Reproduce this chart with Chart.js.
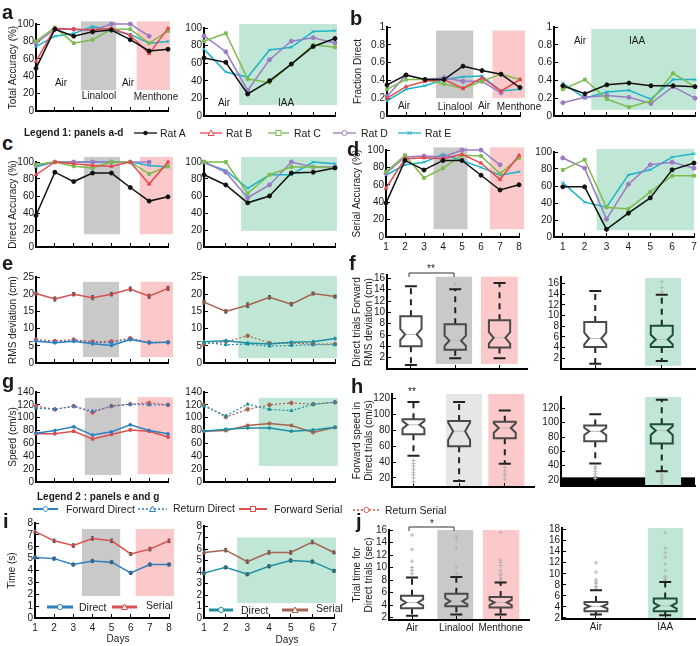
<!DOCTYPE html>
<html>
<head>
<meta charset="utf-8">
<title>Olfactory navigation panels</title>
<script src="https://cdn.jsdelivr.net/npm/chart.js@4.4.1/dist/chart.umd.min.js"></script>
<style>
  body { margin: 0; background: #fff; }
  #fig { position: relative; width: 700px; height: 646px; overflow: hidden; font-family: "Liberation Sans", Arial, sans-serif; color: #1a1a1a; }
  #fig canvas, #fig svg, #fig .t { position: absolute; }
  .t { white-space: nowrap; font-size: 10px; line-height: 1; }
  .let { font-weight: bold; font-size: 20px; }
  .leg { font-size: 10.5px; }
  .bold { font-weight: bold; }
</style>
</head>
<body>
<div id="fig"></div>
<script>
// ---- data ----
const days8 = [1, 2, 3, 4, 5, 6, 7, 8];
const days7 = [1, 2, 3, 4, 5, 6, 7];
const ratNames = ['Rat A', 'Rat B', 'Rat C', 'Rat D', 'Rat E'];
const odorNames = ['Air', 'Linalool', 'Menthone'];
const iaaNames = ['Air', 'IAA'];

// a: total accuracy (%) per rat (Rat B did not run the IAA days)
const totalAccOdor = [
  [49, 94, 86, 91, 93, 82, 69, 71],
  [57, 95, 94, 93, 95, 87, 66, 95],
  [80, 96, 78, 82, 94, 94, 78, 92],
  [78, 94, 94, 93, 100, 100, 86, null],
  [74, 86, 89, 97, 93, 88, 78, 80]
];
const totalAccIaa = [
  [66, 61, 25, 40, 59, 79, 88],
  null,
  [85, 94, 42, 38, 59, 81, 78],
  [91, 73, 29, 64, 85, 89, 83],
  [76, 50, 44, 75, 78, 96, 97]
];
// b: fraction direct
const fracDirectOdor = [
  [0.35, 0.46, 0.41, 0.41, 0.56, 0.51, 0.47, 0.32],
  [0.20, 0.33, 0.39, 0.41, 0.31, 0.43, 0.28, 0.41],
  [0.30, 0.41, 0.41, 0.36, 0.31, 0.39, 0.47, 0.41],
  [0.22, 0.46, 0.41, 0.43, 0.39, 0.39, 0.26, null],
  [0.17, 0.30, 0.34, 0.41, 0.44, 0.45, 0.28, 0.30]
];
const fracDirectIaa = [
  [0.34, 0.25, 0.35, 0.37, 0.34, 0.34, 0.33],
  null,
  [0.30, 0.41, 0.19, 0.10, 0.17, 0.48, 0.33],
  [0.15, 0.21, 0.23, 0.21, 0.14, 0.33, 0.20],
  [0.37, 0.20, 0.27, 0.29, 0.19, 0.41, 0.41]
];
// c: direct accuracy (%)
const directAccOdor = [
  [37, 88, 77, 87, 87, 70, 54, 59],
  [85, 100, 98, 96, 95, 100, 74, 100],
  [97, 100, 95, 93, 100, 100, 86, 95],
  [96, 100, 100, 100, 100, 100, 100, null],
  [94, 100, 100, 100, 100, 100, 96, 94]
];
const directAccIaa = [
  [85, 73, 52, 60, 87, 88, 93],
  null,
  [100, 100, 63, 85, 94, 94, 93],
  [100, 88, 58, 73, 100, 94, 94],
  [99, 90, 69, 85, 85, 100, 98]
];
// d: serial accuracy (%)
const serialAccOdor = [
  [39, 88, 77, 88, 88, 71, 54, 60],
  [56, 90, 91, 90, 95, 85, 66, 94],
  [75, 94, 68, 79, 94, 93, 73, 91],
  [73, 92, 93, 92, 100, 100, 83, null],
  [71, 83, 86, 95, 88, 80, 71, 75]
];
const serialAccIaa = [
  [59, 59, 9, 28, 46, 79, 87],
  null,
  [79, 91, 35, 33, 53, 72, 72],
  [93, 81, 21, 62, 85, 88, 81],
  [64, 41, 35, 73, 79, 94, 98]
];
// e: RMS deviation (cm)
const rmsFwdDirectOdor = [6.3, 5.9, 6.3, 5.6, 5.1, 6.8, 5.9, 6.0];
const rmsRetDirectOdor = [6.5, 6.0, 6.5, 5.9, 5.9, 7.0, 5.9, 6.0];
const rmsFwdSerialOdor = [20.2, 18.6, 20.0, 19.0, 20.0, 21.5, 19.4, 21.7];
const rmsRetSerialOdor = [6.8, 6.4, 6.8, 6.2, 6.3, 7.2, 6.0, 6.0];
const rmsFwdSerialOdorErr = [0.5, 0.6, 0.5, 0.6, 0.5, 0.6, 0.6, 0.6];
const rmsFwdDirectIaa = [6.2, 6.5, 5.8, 5.5, 6.0, 6.2, 7.1];
const rmsRetDirectIaa = [6.0, 5.3, 5.5, 4.9, 5.1, 5.3, 5.3];
const rmsFwdSerialIaa = [17.7, 15.0, 16.8, 19.1, 17.1, 20.2, 19.3];
const rmsRetSerialIaa = [5.5, 6.2, 7.9, 5.8, 5.8, 5.5, 5.5];
const rmsFwdSerialIaaErr = [0.6, 0.5, 0.7, 0.5, 0.5, 0.4, 0.4];
// g: speed (cm/s)
const speedFwdDirectOdor = [76, 80, 86, 73, 78, 89, 80, 75];
const speedRetDirectOdor = [115, 113, 118, 110, 118, 121, 120, 120];
const speedFwdSerialOdor = [75, 75, 79, 67, 74, 81, 79, 70];
const speedRetSerialOdor = [118, 113, 118, 108, 118, 121, 123, 120];
const speedFwdDirectIaa = [79, 82, 84, 84, 79, 81, 85];
const speedRetDirectIaa = [118, 103, 121, 113, 111, 121, 124];
const speedFwdSerialIaa = [79, 80, 88, 91, 88, 77, 85];
const speedRetSerialIaa = [120, 101, 113, 120, 123, 121, 124];
// i: trial time (s)
const timeDirectOdor = [5.1, 5.0, 4.5, 4.8, 4.7, 3.8, 4.5, 4.5];
const timeSerialOdor = [7.3, 6.5, 6.1, 6.7, 6.5, 5.4, 5.8, 6.5];
const timeDirectOdorErr = [0.1, 0.1, 0.1, 0.1, 0.1, 0.1, 0.1, 0.1];
const timeSerialOdorErr = [0.15, 0.15, 0.15, 0.15, 0.15, 0.12, 0.15, 0.15];
const timeDirectIaa = [3.9, 4.4, 3.8, 4.5, 5.0, 4.9, 4.1];
const timeSerialIaa = [5.7, 5.9, 4.9, 5.7, 5.7, 6.6, 5.7];
const timeDirectIaaErr = [0.1, 0.1, 0.1, 0.12, 0.12, 0.12, 0.1];
const timeSerialIaaErr = [0.15, 0.15, 0.15, 0.15, 0.15, 0.15, 0.12];
// f, h, j: box stats [lower whisker, q1, median, q3, upper whisker], notch half-height, outliers
const rmsBoxOdor = [[0.7, 4.0, 6.1, 9.3, 14.6], [1.9, 3.4, 5.0, 7.9, 14.1], [1.9, 3.8, 5.5, 8.6, 15.2]];
const rmsNotchOdor = [1.0, 0.9, 1.0];
const rmsOutOdor = [[], [15.0], []];
const rmsBoxIaa = [[1.0, 4.1, 5.7, 8.8, 14.6], [1.5, 4.1, 5.5, 8.1, 13.9]];
const rmsNotchIaa = [1.1, 0.9];
const rmsOutIaa = [[], [14.4, 15.2, 16.3]];
const speedBoxOdor = [[48, 75, 87, 94, 116], [16, 60, 79, 92, 116], [38, 70, 83, 91, 105]];
const speedNotchOdor = [5, 11, 6];
const speedOutOdor = [[15, 20, 24, 27, 31, 35, 38, 42], [], [18, 22, 25, 29, 33]];
const speedBoxIaa = [[43, 74, 88, 96, 112], [32, 71, 89, 98, 132]];
const speedNotchIaa = [5, 6];
const speedOutIaa = [[22, 25, 28, 32, 36, 39], [15, 18, 21, 24, 27]];
const timeBoxOdor = [[2.3, 3.5, 4.4, 5.5, 8.4], [2.5, 3.8, 4.6, 5.8, 8.5], [2.5, 3.6, 4.4, 5.3, 7.6]];
const timeNotchOdor = [0.5, 0.5, 0.4];
const timeOutOdor = [[9.0, 9.5, 10.0, 11.0, 12.9, 15.2], [9.0, 10.1, 13.0, 14.5, 15.0], [8.0, 8.3, 8.7, 9.0, 9.5, 10.3, 10.8, 11.2, 15.6]];
const timeBoxIaa = [[2.6, 3.2, 4.1, 4.9, 7.0], [2.5, 3.2, 4.2, 5.5, 8.5]];
const timeNotchIaa = [0.4, 0.5];
const timeOutIaa = [[7.4, 7.7, 8.2, 8.5, 8.9, 10.3, 12.0], [8.8, 9.1, 9.5, 10.6, 11.8, 13.0, 13.8, 14.6, 17.4]];

// ---- styles ----
const FONT = '"Liberation Sans", Arial, sans-serif';
const INK = '#1a1a1a';
const GRAY = '#c9c9c9', LGRAY = '#e6e6e6', PINK = '#fbc9c9', GREEN = '#c0e7d6';
const ratColors = ['#111111', '#e5484d', '#7dbb4f', '#9a7cc4', '#1db2c9'];
const ratMarkers = ['circle', 'triangle', 'rect', 'circle', 'crossRot'];
const BLUE = '#2c7fc0', RED = '#d9514e', TEAL = '#1f8fa3', BROWN = '#a5644f';

const fig = document.getElementById('fig');

function ratSets(rows, xs) {
  const out = [];
  rows.forEach(function (row, i) {
    if (!row) return;
    out.push({
      label: ratNames[i],
      data: row.map(function (v, k) { return { x: xs[k], y: v }; }),
      showLine: true, borderColor: ratColors[i], backgroundColor: ratColors[i],
      borderWidth: 1.5, pointStyle: ratMarkers[i], pointRadius: 2, pointBorderWidth: 1,
      clip: false
    });
  });
  return out;
}

function line(vals, xs, color, dashed, marker, errs) {
  return {
    data: vals.map(function (v, k) { return { x: xs[k], y: v }; }),
    showLine: true, borderColor: color, backgroundColor: color,
    borderWidth: dashed ? 1.2 : 1.5, borderDash: dashed ? [2, 2] : [],
    pointStyle: marker, pointRadius: 1.8, pointBorderWidth: 1,
    errs: errs || null, clip: false
  };
}

function outliers(lists) {
  const pts = [];
  lists.forEach(function (l, i) { l.forEach(function (v) { pts.push({ x: i + 1, y: v }); }); });
  return { data: pts, showLine: false, pointStyle: 'cross', pointRadius: 2, borderColor: '#b3b3b3', borderWidth: 1, clip: false };
}

// shaded odour periods, drawn behind everything
function shadePlugin(rects) {
  return {
    id: 'shade',
    beforeDraw: function (chart) {
      const ctx = chart.ctx, xs = chart.scales.x, ys = chart.scales.y;
      rects.forEach(function (r) {
        const x0 = xs.getPixelForValue(r.x[0]), x1 = xs.getPixelForValue(r.x[1]);
        const y0 = ys.getPixelForValue(r.y[1]), y1 = ys.getPixelForValue(r.y[0]);
        ctx.fillStyle = r.c;
        ctx.fillRect(x0, y0, x1 - x0, y1 - y0);
      });
    }
  };
}

// error bars on datasets that carry an errs array
const errPlugin = {
  id: 'errs',
  afterDatasetsDraw: function (chart) {
    const ctx = chart.ctx, ys = chart.scales.y;
    chart.data.datasets.forEach(function (ds, i) {
      if (!ds.errs) return;
      const meta = chart.getDatasetMeta(i);
      ctx.save();
      ctx.strokeStyle = '#555';
      ctx.lineWidth = 1;
      meta.data.forEach(function (pt, k) {
        const e = ds.errs[k], v = ds.data[k].y;
        const a = ys.getPixelForValue(v - e), b = ys.getPixelForValue(v + e);
        ctx.beginPath();
        ctx.moveTo(pt.x, a); ctx.lineTo(pt.x, b);
        ctx.moveTo(pt.x - 1.5, a); ctx.lineTo(pt.x + 1.5, a);
        ctx.moveTo(pt.x - 1.5, b); ctx.lineTo(pt.x + 1.5, b);
        ctx.stroke();
      });
      ctx.restore();
    });
  }
};

// notched box plots
function boxPlugin(b) {
  return {
    id: 'boxes',
    afterDatasetsDraw: function (chart) {
      if (!b) return;
      const ctx = chart.ctx, xs = chart.scales.x, ys = chart.scales.y;
      const py = function (v) { return ys.getPixelForValue(v); };
      b.stats.forEach(function (st, i) {
        const cx = xs.getPixelForValue(i + 1);
        const hw = xs.getPixelForValue(i + 1 + b.half) - cx;
        const L = cx - hw, R = cx + hw, ins = hw * 0.45;
        const lo = py(st[0]), q1 = py(st[1]), md = py(st[2]), q3 = py(st[3]), hi = py(st[4]);
        const nT = Math.max(py(st[2] + b.notch[i]), q3), nB = Math.min(py(st[2] - b.notch[i]), q1);
        ctx.save();
        ctx.strokeStyle = '#222';
        ctx.lineWidth = 2;
        ctx.setLineDash([6, 5]);
        ctx.beginPath();
        ctx.moveTo(cx, q3); ctx.lineTo(cx, hi);
        ctx.moveTo(cx, q1); ctx.lineTo(cx, lo);
        ctx.stroke();
        ctx.setLineDash([]);
        ctx.beginPath();
        ctx.moveTo(cx - 6, hi); ctx.lineTo(cx + 6, hi);
        ctx.moveTo(cx - 6, lo); ctx.lineTo(cx + 6, lo);
        ctx.stroke();
        ctx.strokeStyle = '#bdbdbd';
        ctx.lineWidth = 1;
        ctx.beginPath(); ctx.moveTo(L + ins, md); ctx.lineTo(R - ins, md); ctx.stroke();
        ctx.strokeStyle = b.edge[i];
        ctx.lineWidth = 2;
        ctx.beginPath();
        ctx.moveTo(L, q3); ctx.lineTo(R, q3); ctx.lineTo(R, nT); ctx.lineTo(R - ins, md);
        ctx.lineTo(R, nB); ctx.lineTo(R, q1); ctx.lineTo(L, q1); ctx.lineTo(L, nB);
        ctx.lineTo(L + ins, md); ctx.lineTo(L, nT); ctx.closePath();
        ctx.stroke();
        ctx.restore();
      });
    }
  };
}

function panel(o) {
  const pt = 8, pr = 2, yw = o.yw || 30, xh = o.xh || 4;
  const W = o.r - o.l + yw + pr, H = o.b - o.t + pt + xh;
  const cv = document.createElement('canvas');
  cv.width = W; cv.height = H;
  cv.style.left = (o.l - yw) + 'px';
  cv.style.top = (o.t - pt) + 'px';
  cv.style.width = W + 'px';
  cv.style.height = H + 'px';
  fig.appendChild(cv);
  const fit = function (w, h) {
    return function (s) {
      if (w != null) s.width = w;
      if (h != null) s.height = h;
      s.paddingLeft = s.paddingRight = s.paddingTop = s.paddingBottom = 0;
    };
  };
  const tickFont = { size: 10, family: FONT };
  new Chart(cv, {
    type: 'scatter',
    data: { datasets: o.sets || [] },
    options: {
      responsive: false, animation: false, devicePixelRatio: 1, events: [],
      layout: { padding: { top: pt, right: pr, left: 0, bottom: 0 } },
      plugins: { legend: { display: false }, tooltip: { enabled: false } },
      scales: {
        x: {
          type: 'linear', position: 'bottom', min: o.x[0], max: o.x[1],
          afterBuildTicks: function (s) { s.ticks = o.xt.map(function (v) { return { value: v }; }); },
          afterFit: fit(null, xh),
          grid: { drawOnChartArea: false, drawTicks: true, tickLength: -4, color: '#000', lineWidth: 1 },
          border: { display: true, color: '#000', width: 2 },
          ticks: {
            display: !!o.xl, padding: o.xpad || 8, color: INK, font: tickFont,
            maxRotation: 0, autoSkip: false,
            callback: function (v, i) { return o.xl ? o.xl[i] : ''; }
          }
        },
        y: {
          type: 'linear', position: 'left', min: o.y[0], max: o.y[1],
          afterBuildTicks: function (s) { s.ticks = o.yt.map(function (v) { return { value: v }; }); },
          afterFit: fit(yw, null),
          grid: { drawOnChartArea: false, drawTicks: true, tickLength: -4, color: '#000', lineWidth: 1 },
          border: { display: true, color: '#000', width: 2 },
          ticks: { padding: 6, color: INK, font: tickFont, autoSkip: false, callback: function (v) { return String(v); } },
          title: {
            display: !!o.ytitle, text: o.ytitle || '', color: INK,
            font: { size: 10, family: FONT, lineHeight: 1.2 }, padding: { top: o.ytpad || 0, bottom: 0 }
          }
        }
      }
    },
    plugins: [shadePlugin(o.shades || []), boxPlugin(o.boxes), errPlugin]
  });
}

// ---- html text and legend symbols ----
function txt(s, x, y, cls, anchor) {
  const d = document.createElement('div');
  d.className = 't ' + (cls || '');
  d.textContent = s;
  d.style.left = x + 'px';
  d.style.top = y + 'px';
  d.style.transform = anchor === 'left' ? 'translate(0,-50%)' : 'translate(-50%,-50%)';
  fig.appendChild(d);
}
function letter(s, x, baseline) {
  const d = document.createElement('div');
  d.className = 't let';
  d.textContent = s;
  d.style.left = x + 'px';
  d.style.top = (baseline - 17) + 'px';
  fig.appendChild(d);
}
const NS = 'http://www.w3.org/2000/svg';
function svgEl(x, y, w, h) {
  const s = document.createElementNS(NS, 'svg');
  s.setAttribute('width', w); s.setAttribute('height', h);
  s.style.left = x + 'px'; s.style.top = y + 'px';
  fig.appendChild(s);
  return s;
}
function add(s, tag, attrs) {
  const e = document.createElementNS(NS, tag);
  Object.keys(attrs).forEach(function (k) { e.setAttribute(k, attrs[k]); });
  s.appendChild(e);
}
function sym(x1, x2, y, color, dashed, marker, lw) {
  const s = svgEl(x1 - 4, y - 6, x2 - x1 + 8, 12);
  const w = x2 - x1 + 8, c = w / 2;
  add(s, 'line', { x1: 4, y1: 6, x2: w - 4, y2: 6, stroke: color, 'stroke-width': lw || 1.3, 'stroke-dasharray': dashed ? '2,2' : 'none' });
  const m = { fill: marker === 'dot' ? color : 'white', stroke: color, 'stroke-width': 1 };
  if (marker === 'dot') add(s, 'circle', Object.assign({ cx: c, cy: 6, r: 1.8 }, m));
  if (marker === 'circ') add(s, 'circle', Object.assign({ cx: c, cy: 6, r: 2.6 }, m));
  if (marker === 'tri') add(s, 'polygon', Object.assign({ points: (c - 3) + ',8.5 ' + (c + 3) + ',8.5 ' + c + ',3' }, m));
  if (marker === 'sq') add(s, 'rect', Object.assign({ x: c - 2.5, y: 3.5, width: 5, height: 5 }, m));
  if (marker === 'dia') add(s, 'polygon', Object.assign({ points: (c - 3) + ',6 ' + c + ',3 ' + (c + 3) + ',6 ' + c + ',9' }, m));
  if (marker === 'x') {
    add(s, 'line', { x1: c - 2, y1: 4, x2: c + 2, y2: 8, stroke: color, 'stroke-width': 1 });
    add(s, 'line', { x1: c - 2, y1: 8, x2: c + 2, y2: 4, stroke: color, 'stroke-width': 1 });
  }
}
function bracket(x1, x2, y) {
  const s = svgEl(x1 - 1, y - 1, x2 - x1 + 2, 6);
  add(s, 'path', { d: 'M1,5 L1,1 L' + (x2 - x1 + 1) + ',1 L' + (x2 - x1 + 1) + ',5', fill: 'none', stroke: '#333', 'stroke-width': 1 });
}

// ---- panels ----
const accTicks = [0, 20, 40, 60, 80, 100];
const fracTicks = [0, 0.2, 0.4, 0.6, 0.8, 1];

// a
panel({ l: 36, r: 171, t: 24, b: 112, yw: 36, x: [1, 8], xt: days8, y: [0, 100], yt: accTicks,
  ytitle: 'Total Accuracy (%)', ytpad: 7, sets: ratSets(totalAccOdor, days8),
  shades: [{ x: [3.38, 5.25], y: [24, 103], c: GRAY }, { x: [6.34, 8.1], y: [24, 103], c: PINK }] });
panel({ l: 204, r: 338, t: 28, b: 117, x: [1, 7], xt: days7, y: [0, 100], yt: accTicks,
  sets: ratSets(totalAccIaa, days7), shades: [{ x: [2.61, 7.09], y: [12.4, 104.5], c: GREEN }] });
// b
panel({ l: 387, r: 523, t: 27, b: 117, yw: 37, x: [1, 8], xt: days8, y: [0, 1], yt: fracTicks,
  ytitle: 'Fraction Direct', ytpad: 2, sets: ratSets(fracDirectOdor, days8),
  shades: [{ x: [3.58, 5.54], y: [0.2, 0.96], c: GRAY }, { x: [6.55, 8.4], y: [0.2, 0.96], c: PINK }] });
panel({ l: 554, r: 698, t: 27, b: 117, x: [0.6, 7], xt: days7, y: [0, 1], yt: fracTicks,
  sets: ratSets(fracDirectIaa, days7), shades: [{ x: [2.29, 7.05], y: [0.07, 0.98], c: GREEN }] });
// c
panel({ l: 36, r: 171, t: 162, b: 248, yw: 36, x: [1, 8], xt: days8, y: [0, 100], yt: accTicks,
  ytitle: 'Direct Accuracy (%)', ytpad: 7, sets: ratSets(directAccOdor, days8),
  shades: [{ x: [3.54, 5.46], y: [15, 106], c: GRAY }, { x: [6.5, 8.3], y: [15, 106], c: PINK }] });
panel({ l: 204, r: 338, t: 162, b: 248, x: [1, 7], xt: days7, y: [0, 100], yt: accTicks,
  sets: ratSets(directAccIaa, days7), shades: [{ x: [2.7, 7.09], y: [19, 106], c: GREEN }] });
// d
panel({ l: 386, r: 522, t: 150, b: 237, yw: 36, xh: 16, x: [1, 8], xt: days8, xl: days8.map(String),
  y: [0, 100], yt: accTicks, ytitle: 'Serial Accuracy (%)', ytpad: 1, sets: ratSets(serialAccOdor, days8),
  shades: [{ x: [3.5, 5.29], y: [9, 103], c: GRAY }, { x: [6.47, 8.4], y: [9, 103], c: PINK }] });
panel({ l: 554, r: 697, t: 152, b: 237, xh: 16, x: [0.6, 7], xt: days7, xl: days7.map(String),
  y: [0, 100], yt: accTicks, sets: ratSets(serialAccIaa, days7),
  shades: [{ x: [2.55, 7.0], y: [8, 103.5], c: GREEN }] });
// e
panel({ l: 36, r: 171, t: 277, b: 364, yw: 36, x: [1, 8], xt: days8, y: [0, 25], yt: [0, 5, 10, 15, 20, 25],
  ytitle: 'RMS deviation (cm)', ytpad: 7,
  sets: [line(rmsFwdDirectOdor, days8, BLUE, false, 'rectRot'), line(rmsRetDirectOdor, days8, BLUE, true, 'triangle'),
         line(rmsFwdSerialOdor, days8, RED, false, 'rect', rmsFwdSerialOdorErr), line(rmsRetSerialOdor, days8, RED, true, 'circle')],
  shades: [{ x: [3.49, 5.4], y: [1.7, 23.6], c: GRAY }, { x: [6.55, 8.3], y: [1.7, 23.6], c: PINK }] });
panel({ l: 204, r: 338, t: 277, b: 364, x: [1, 7], xt: days7, y: [0, 25], yt: [0, 5, 10, 15, 20, 25],
  sets: [line(rmsFwdDirectIaa, days7, TEAL, false, 'rectRot'), line(rmsRetDirectIaa, days7, TEAL, true, 'triangle'),
         line(rmsFwdSerialIaa, days7, BROWN, false, 'rect', rmsFwdSerialIaaErr), line(rmsRetSerialIaa, days7, BROWN, true, 'circle')],
  shades: [{ x: [2.57, 7.09], y: [1.4, 25.3], c: GREEN }] });
// f
panel({ l: 387, r: 530, t: 275, b: 370, yw: 37, x: [0.46, 3.62], xt: [1, 2, 3], y: [0, 16.6], yt: [2, 4, 6, 8, 10, 12, 14, 16],
  ytitle: ['Direct trials Forward', 'RMS deviation (cm)'], ytpad: 1, sets: [outliers(rmsOutOdor)],
  boxes: { stats: rmsBoxOdor, notch: rmsNotchOdor, half: 0.24, edge: ['#4a4a4a', '#4a4a4a', '#4a4a4a'] },
  shades: [{ x: [1.56, 2.38], y: [0.9, 16.3], c: GRAY }, { x: [2.58, 3.41], y: [0.9, 16.3], c: PINK }] });
panel({ l: 561, r: 698, t: 277, b: 370, x: [0.485, 2.5], xt: [1, 2], y: [0, 17.2], yt: [2, 4, 6, 8, 10, 12, 14, 16],
  sets: [outliers(rmsOutIaa)],
  boxes: { stats: rmsBoxIaa, notch: rmsNotchIaa, half: 0.165, edge: ['#4a4a4a', '#1f4d3a'] },
  shades: [{ x: [1.75, 2.29], y: [0.6, 17], c: GREEN }] });
// g
panel({ l: 36, r: 171, t: 392, b: 483, yw: 36, x: [1, 8], xt: days8, y: [0, 140], yt: [0, 20, 40, 60, 80, 100, 120, 140],
  ytitle: 'Speed (cm/s)', ytpad: 7,
  sets: [line(speedFwdDirectOdor, days8, BLUE, false, 'rectRot'), line(speedRetDirectOdor, days8, BLUE, true, 'triangle'),
         line(speedFwdSerialOdor, days8, RED, false, 'rect'), line(speedRetSerialOdor, days8, RED, true, 'circle')],
  shades: [{ x: [3.59, 5.51], y: [11, 131], c: GRAY }, { x: [6.39, 8.26], y: [12, 132], c: PINK }] });
panel({ l: 204, r: 338, t: 392, b: 483, x: [1, 7], xt: days7, y: [0, 140], yt: [0, 20, 40, 60, 80, 100, 120, 140],
  sets: [line(speedFwdDirectIaa, days7, TEAL, false, 'rectRot'), line(speedRetDirectIaa, days7, TEAL, true, 'triangle'),
         line(speedFwdSerialIaa, days7, BROWN, false, 'rect'), line(speedRetSerialIaa, days7, BROWN, true, 'circle')],
  shades: [{ x: [3.51, 7.13], y: [25, 131], c: GREEN }] });
// h
panel({ l: 392, r: 537, t: 394, b: 488, yw: 42, x: [0.53, 3.64], xt: [1, 2, 3], y: [8.5, 126], yt: [20, 40, 60, 80, 100, 120],
  ytitle: ['Forward speed in', 'Direct trials (cm/s)'], ytpad: 1, sets: [outliers(speedOutOdor)],
  boxes: { stats: speedBoxOdor, notch: speedNotchOdor, half: 0.24, edge: ['#4a4a4a', '#4a4a4a', '#4a4a4a'] },
  shades: [{ x: [1.71, 2.5], y: [8.5, 126], c: LGRAY }, { x: [2.64, 3.43], y: [8.5, 126], c: PINK }] });
panel({ l: 561, r: 698, t: 397, b: 487, x: [0.485, 2.5], xt: [1, 2], y: [11.5, 136], yt: [20, 40, 60, 80, 100, 120],
  sets: [outliers(speedOutIaa)],
  boxes: { stats: speedBoxIaa, notch: speedNotchIaa, half: 0.165, edge: ['#4a4a4a', '#1f4d3a'] },
  shades: [{ x: [0.485, 2.5], y: [11.5, 23.6], c: '#000' }, { x: [1.75, 2.29], y: [11.5, 136], c: GREEN }] });
// i
panel({ l: 35, r: 172, t: 523, b: 618, yw: 35, xh: 16, x: [1, 8], xt: days8, xl: days8.map(String),
  y: [0, 8], yt: [0, 1, 2, 3, 4, 5, 6, 7, 8], ytitle: 'Time (s)', ytpad: 6,
  sets: [line(timeDirectOdor, days8, BLUE, false, 'circle', timeDirectOdorErr), line(timeSerialOdor, days8, RED, false, 'triangle', timeSerialOdorErr)],
  shades: [{ x: [3.45, 5.45], y: [1.85, 7.5], c: GRAY }, { x: [6.26, 8.3], y: [1.85, 7.5], c: PINK }] });
panel({ l: 204, r: 337, t: 526, b: 618, xh: 16, x: [1, 7], xt: days7, xl: days7.map(String),
  y: [0, 8], yt: [0, 1, 2, 3, 4, 5, 6, 7, 8],
  sets: [line(timeDirectIaa, days7, TEAL, false, 'circle', timeDirectIaaErr), line(timeSerialIaa, days7, BROWN, false, 'triangle', timeSerialIaaErr)],
  shades: [{ x: [2.53, 7.09], y: [1.3, 7.0], c: GREEN }] });
// j
panel({ l: 389, r: 532, t: 530, b: 620, yw: 39, xh: 16, x: [0.48, 3.64], xt: [1, 2, 3], xl: odorNames, xpad: 6,
  y: [1.6, 16], yt: [2, 4, 6, 8, 10, 12, 14, 16], ytitle: ['Trial time for', 'Direct trials (sec)'], ytpad: 1,
  sets: [outliers(timeOutOdor)],
  boxes: { stats: timeBoxOdor, notch: timeNotchOdor, half: 0.25, edge: ['#4a4a4a', '#4a4a4a', '#4a4a4a'] },
  shades: [{ x: [1.57, 2.38], y: [1.6, 16], c: GRAY }, { x: [2.6, 3.42], y: [1.6, 16], c: PINK }] });
panel({ l: 562, r: 698, t: 528, b: 619, xh: 16, x: [0.51, 2.43], xt: [1, 2], xl: iaaNames, xpad: 6,
  y: [1.8, 18.3], yt: [2, 4, 6, 8, 10, 12, 14, 16, 18], sets: [outliers(timeOutIaa)],
  boxes: { stats: timeBoxIaa, notch: timeNotchIaa, half: 0.165, edge: ['#4a4a4a', '#1f4d3a'] },
  shades: [{ x: [1.75, 2.26], y: [1.8, 18.3], c: GREEN }] });

// ---- annotations ----
letter('a', 2, 19); letter('b', 350, 25); letter('c', 2, 150); letter('d', 347, 156);
letter('e', 2, 270); letter('f', 349, 270); letter('g', 2, 388); letter('h', 351, 393);
letter('i', 3, 528); letter('j', 356, 528);

txt('Air', 61, 83); txt('Linalool', 99, 96); txt('Air', 128, 83); txt('Menthone', 156, 97);
txt('Air', 224, 103); txt('IAA', 286, 103);
txt('Air', 404, 106); txt('Linalool', 455, 107); txt('Air', 484, 106); txt('Menthone', 519, 107);
txt('Air', 580, 41); txt('IAA', 637, 41);

// legend 1
txt('Legend 1: panels a-d', 24, 133, 'bold', 'left');
const leg1 = [[134, 157, 160], [200, 222, 226], [268, 289, 294], [333, 356, 361], [398, 421, 425]];
const leg1Marks = ['dot', 'tri', 'sq', 'circ', 'x'];
leg1.forEach(function (p, i) {
  sym(p[0], p[1], 133, ratColors[i], false, leg1Marks[i]);
  txt(ratNames[i], p[2], 133, 'leg', 'left');
});

// legend 2
txt('Legend 2 : panels e and g', 37, 497, 'bold', 'left');
sym(33, 58, 509, BLUE, false, 'dia', 2); txt('Forward Direct', 66, 509, 'leg', 'left');
sym(138, 167, 509, BLUE, true, 'tri', 1.5); txt('Return Direct', 173, 508, 'leg', 'left');
sym(239, 267, 509, RED, false, 'sq', 2); txt('Forward Serial', 274, 509, 'leg', 'left');
sym(353, 380, 510, RED, true, 'circ', 1.5); txt('Return Serial', 385, 510, 'leg', 'left');

// inline legends of i
sym(47, 73, 607, BLUE, false, 'circ', 3); txt('Direct', 79, 607, 'leg', 'left');
sym(112, 137, 607, RED, false, 'tri', 3); txt('Serial', 146, 605, 'leg', 'left');
sym(209, 233, 610, TEAL, false, 'circ', 3); txt('Direct', 241, 610, 'leg', 'left');
sym(282, 308, 610, BROWN, false, 'tri', 3); txt('Serial', 316, 608, 'leg', 'left');
txt('Days', 118, 639); txt('Days', 287, 640);

// significance marks
bracket(409, 454, 273); txt('**', 431, 269);
txt('**', 412, 392);
bracket(409, 454, 527); txt('*', 432, 524);
</script>
</body>
</html>
